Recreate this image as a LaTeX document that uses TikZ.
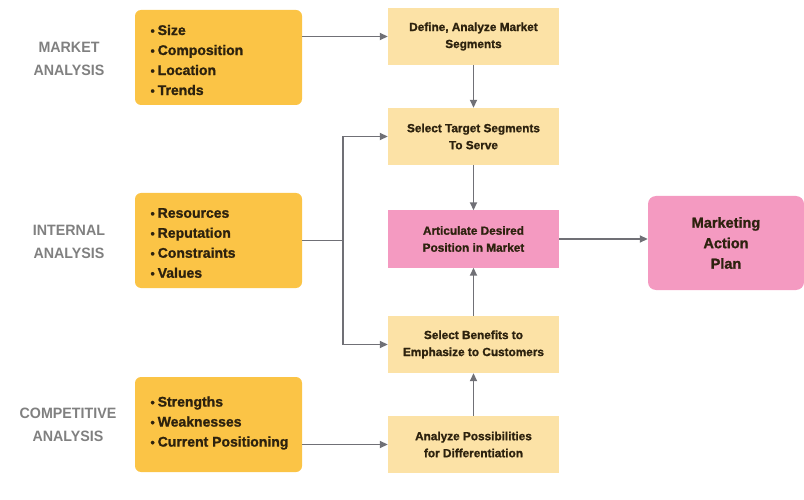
\documentclass[tikz,border=0pt]{standalone}
\usepackage{fontspec}
\setmainfont{Liberation Sans}
\newfontfamily\cond[FakeBold=1.2]{Liberation Sans}
\newfontfamily\lab[FakeStretch=0.95]{Liberation Sans}
\usetikzlibrary{arrows.meta}
\definecolor{orangebox}{RGB}{251,196,70}
\definecolor{lightbox}{RGB}{252,226,166}
\definecolor{pinkbox}{RGB}{244,154,193}
\definecolor{txt}{RGB}{45,34,14}
\definecolor{lbl}{RGB}{128,128,128}
\definecolor{conn}{RGB}{112,112,118}
\tikzset{
  obox/.style={fill=orangebox, rounded corners=6pt, minimum width=167pt, minimum height=95pt, inner sep=0pt},
  btxt/.style={text=txt, font=\cond\bfseries\fontsize{14}{20}\selectfont, align=left, anchor=west},
  lbox/.style={fill=lightbox, minimum width=171pt, minimum height=57pt, inner sep=0pt, text=txt, font=\cond\bfseries\fontsize{11.8}{17}\selectfont, align=center},
  pbox/.style={lbox, fill=pinkbox},
  mbox/.style={fill=pinkbox, rounded corners=8pt, minimum width=156pt, minimum height=94pt, inner sep=0pt, text=txt, font=\cond\bfseries\fontsize{14.5}{20.5}\selectfont, align=center},
  sidelbl/.style={text=lbl, font=\lab\bfseries\fontsize{15}{23}\selectfont, align=center},
  conline/.style={draw=conn, line width=1.8pt},
  arr/.style={conline, -{Triangle[length=8pt,width=7pt]}},
}
\newcommand{\bl}{{\fontsize{12}{12}\selectfont\textbullet}\hspace{3pt}}
\begin{document}
\begin{tikzpicture}[x=1pt,y=-1pt]
\useasboundingbox (0,0) rectangle (804,500);
% side labels
\node[sidelbl] (lm) at (69,59) {MARKET\\ANALYSIS};
\node[sidelbl] (li) at (69,242) {INTERNAL\\ANALYSIS};
\node[sidelbl] (lc) at (68,425) {COMPETITIVE\\ANALYSIS};
% orange boxes
\node[obox] (mk) at (218.5,57.5) {};
\node[btxt] (mkt) at (147,60) {\bl Size\\\bl Composition\\\bl Location\\\bl Trends};
\node[obox] (in) at (218.5,240.5) {};
\node[btxt] (int) at (147,243) {\bl Resources\\\bl Reputation\\\bl Constraints\\\bl Values};
\node[obox] (co) at (218.5,424.5) {};
\node[btxt] (cot) at (147,423) {\bl Strengths\\\bl Weaknesses\\\bl Current Positioning};
% process boxes
\node[lbox] (b1) at (473.5,36.5) {Define, Analyze Market\\Segments};
\node[lbox] (b2) at (473.5,136.5) {Select Target Segments\\To Serve};
\node[pbox] (b3) at (473.5,239) {Articulate Desired\\Position in Market};
\node[lbox] (b4) at (473.5,344.5) {Select Benefits to\\Emphasize to Customers};
\node[lbox] (b5) at (473.5,444.5) {Analyze Possibilities\\for Differentiation};
\node[mbox] (mp) at (726,243) {Marketing\\Action\\Plan};
% connectors
\coordinate (j) at (343,240.5);
\draw[arr] (mk.east |- b1.west) -- (b1.west);
\draw[conline] (in.east) -- (j);
\draw[arr] (j) |- (b2.west);
\draw[arr] (j) |- (b4.west);
\draw[arr] (co.east |- b5.west) -- (b5.west);
\draw[arr] (b1.south) -- (b2.north);
\draw[arr] (b2.south) -- (b3.north);
\draw[arr] (b4.north) -- (b3.south);
\draw[arr] (b5.north) -- (b4.south);
\draw[arr] (b3.east) -- (mp.west |- b3.east);
\end{tikzpicture}
\end{document}
